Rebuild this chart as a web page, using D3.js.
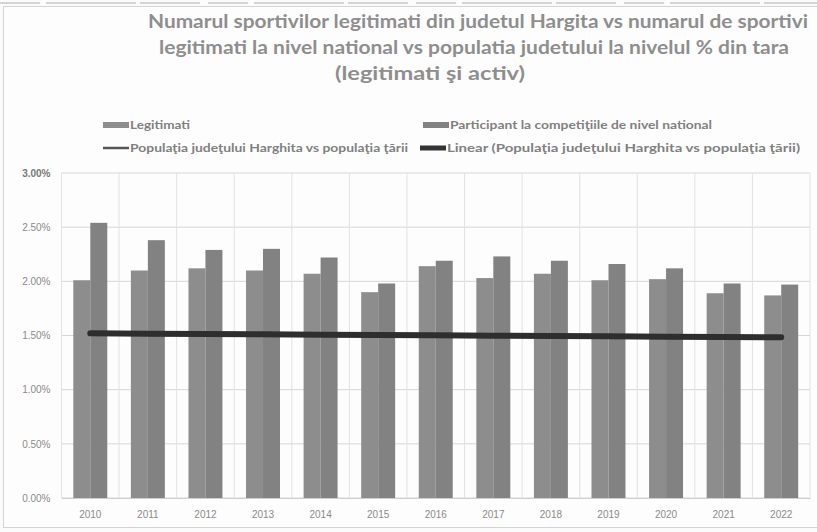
<!DOCTYPE html>
<html>
<head>
<meta charset="utf-8">
<script src="https://cdn.jsdelivr.net/npm/d3@7"></script>
<style>
  body { margin: 0; background: #fbfbfb; }
  svg { display: block; font-family: Lato, "Open Sans", sans-serif; }
  .tick text { fill: #8a8a8a; font-size: 10px; }
</style>
</head>
<body>
<div id="chart"></div>
<script>
// chart data
var years = ["2010", "2011", "2012", "2013", "2014", "2015", "2016", "2017", "2018", "2019", "2020", "2021", "2022"];
var legitimati = [2.01, 2.10, 2.12, 2.10, 2.07, 1.90, 2.14, 2.03, 2.07, 2.01, 2.02, 1.89, 1.87];
var participanti = [2.54, 2.38, 2.29, 2.30, 2.22, 1.98, 2.19, 2.23, 2.19, 2.16, 2.12, 1.98, 1.97];
var populatie = [1.52, 1.52, 1.51, 1.51, 1.51, 1.50, 1.50, 1.50, 1.50, 1.49, 1.49, 1.49, 1.48];
var yTicks = [0, 0.5, 1, 1.5, 2, 2.5, 3];

var titleLines = [
  "Numarul sportivilor legitimati din judetul Hargita  vs numarul de sportivi",
  "legitimati la nivel national vs populatia judetului la nivelul % din tara",
  "(legitimati şi activ)"
];

var svgWidth = 817;
var svgHeight = 532;

var plot = { left: 61.5, right: 810, top: 173, bottom: 498 };

var svg = d3.select("#chart")
  .append("svg")
  .attr("width", svgWidth)
  .attr("height", svgHeight);

// chart frame (the scan shows its left and bottom edges)
svg.append("rect")
  .attr("x", 3.5).attr("y", 6.5)
  .attr("width", 840).attr("height", 521)
  .attr("fill", "#fdfdfd")
  .attr("stroke", "#d4d4d4");

// scan artefact along the top
svg.append("line")
  .attr("x1", 0).attr("x2", svgWidth)
  .attr("y1", 3).attr("y2", 3)
  .attr("stroke", "#c8c8c8")
  .attr("stroke-width", 1.5)
  .attr("stroke-dasharray", "40 6 90 4 60 8");

// title
var titlePos = [
  { x: 478, y: 28, len: 660 },
  { x: 474, y: 54, len: 630 },
  { x: 430, y: 80, len: 190 }
];

svg.append("g").selectAll("text")
  .data(titleLines)
  .enter()
  .append("text")
  .attr("x", (d, i) => titlePos[i].x)
  .attr("y", (d, i) => titlePos[i].y)
  .attr("text-anchor", "middle")
  .attr("textLength", (d, i) => titlePos[i].len)
  .attr("lengthAdjust", "spacingAndGlyphs")
  .attr("fill", "#8e8e8e")
  .style("font-weight", "bold")
  .style("font-size", "19px")
  .text(d => d);

// scales
var xScale = d3.scaleBand()
  .domain(years)
  .range([plot.left, plot.right])
  .paddingInner(0.41)
  .paddingOuter(0.205);

var xSub = d3.scaleBand()
  .domain(["legitimati", "participanti"])
  .range([0, xScale.bandwidth()]);

var yScale = d3.scaleLinear()
  .domain([0, 3])
  .range([plot.bottom, plot.top]);

// gridlines
svg.append("g").selectAll("line")
  .data(yTicks)
  .enter()
  .append("line")
  .attr("x1", plot.left).attr("x2", plot.right)
  .attr("y1", d => yScale(d)).attr("y2", d => yScale(d))
  .attr("stroke", "#d6d6d6");

var step = xScale.step();
svg.append("g").selectAll("line")
  .data(years)
  .enter()
  .append("line")
  .attr("x1", d => xScale(d) - (step - xScale.bandwidth()) / 2)
  .attr("x2", d => xScale(d) - (step - xScale.bandwidth()) / 2)
  .attr("y1", plot.top).attr("y2", plot.bottom)
  .attr("stroke", "#e2e2e2");

svg.append("line")
  .attr("x1", plot.right).attr("x2", plot.right)
  .attr("y1", plot.top).attr("y2", plot.bottom)
  .attr("stroke", "#e2e2e2");

// bars
var seriesData = years.map((y, i) => ({
  year: y,
  values: [
    { key: "legitimati", value: legitimati[i] },
    { key: "participanti", value: participanti[i] }
  ]
}));

var barColor = { legitimati: "#8d8d8d", participanti: "#828282" };

svg.append("g").selectAll("g")
  .data(seriesData)
  .enter()
  .append("g")
  .attr("transform", d => `translate(${xScale(d.year)},0)`)
  .selectAll("rect")
  .data(d => d.values)
  .enter()
  .append("rect")
  .attr("x", d => xSub(d.key))
  .attr("y", d => yScale(d.value))
  .attr("width", xSub.bandwidth())
  .attr("height", d => yScale(0) - yScale(d.value))
  .attr("fill", d => barColor[d.key]);

// population line + linear trend
var cx = d => xScale(d) + xScale.bandwidth() / 2;

var n = populatie.length;
var meanX = d3.mean(d3.range(n));
var meanY = d3.mean(populatie);
var slope = d3.sum(d3.range(n), i => (i - meanX) * (populatie[i] - meanY)) /
  d3.sum(d3.range(n), i => (i - meanX) * (i - meanX));
var trend = d3.range(n).map(i => meanY + slope * (i - meanX));

var line = d3.line()
  .x((d, i) => cx(years[i]))
  .y(d => yScale(d));

svg.append("path")
  .datum(populatie)
  .attr("d", line)
  .attr("fill", "none")
  .attr("stroke", "#444")
  .attr("stroke-width", 3);

svg.append("path")
  .datum(trend)
  .attr("d", line)
  .attr("fill", "none")
  .attr("stroke", "#2e2e2e")
  .attr("stroke-width", 6)
  .attr("stroke-linecap", "round");

// axes
var leftAxis = d3.axisLeft(yScale)
  .tickValues(yTicks)
  .tickFormat(d => d.toFixed(2) + "%")
  .tickSize(0)
  .tickPadding(11);

var yAxisG = svg.append("g")
  .attr("transform", `translate(${plot.left},0)`)
  .call(leftAxis);
yAxisG.select(".domain").remove();
yAxisG.selectAll(".tick text").filter(d => d == 3)
  .style("font-weight", "bold").style("fill", "#777");

var bottomAxis = d3.axisBottom(xScale)
  .tickSize(0)
  .tickPadding(13);

var xAxisG = svg.append("g")
  .attr("transform", `translate(0,${plot.bottom})`)
  .call(bottomAxis);
xAxisG.select(".domain").attr("stroke", "#cfcfcf");

// legend
var legendItems = [
  { label: "Legitimati", x: 103, y: 129, len: 60, type: "rect", color: "#8d8d8d" },
  { label: "Participant la competiţiile de nivel national", x: 423, y: 129, len: 262, type: "rect", color: "#828282" },
  { label: "Populaţia judeţului Harghita vs populaţia ţării", x: 103, y: 152, len: 278, type: "line", color: "#555" },
  { label: "Linear (Populaţia judeţului Harghita vs populaţia ţării)", x: 420, y: 152, len: 353, type: "thick", color: "#333" }
];

var legend = svg.append("g").selectAll("g")
  .data(legendItems)
  .enter()
  .append("g")
  .attr("transform", d => `translate(${d.x},${d.y})`);

legend.filter(d => d.type == "rect")
  .append("rect")
  .attr("x", 0).attr("y", -7)
  .attr("width", 26).attr("height", 6)
  .attr("fill", d => d.color);

legend.filter(d => d.type != "rect")
  .append("line")
  .attr("x1", 0).attr("x2", 26)
  .attr("y1", -4).attr("y2", -4)
  .attr("stroke", d => d.color)
  .attr("stroke-width", d => d.type == "thick" ? 5 : 2.5);

legend.append("text")
  .attr("x", 27)
  .attr("y", 0)
  .attr("textLength", d => d.len)
  .attr("lengthAdjust", "spacingAndGlyphs")
  .attr("fill", "#808080")
  .style("font-size", "11px")
  .style("font-weight", "bold")
  .text(d => d.label);
</script>
</body>
</html>
